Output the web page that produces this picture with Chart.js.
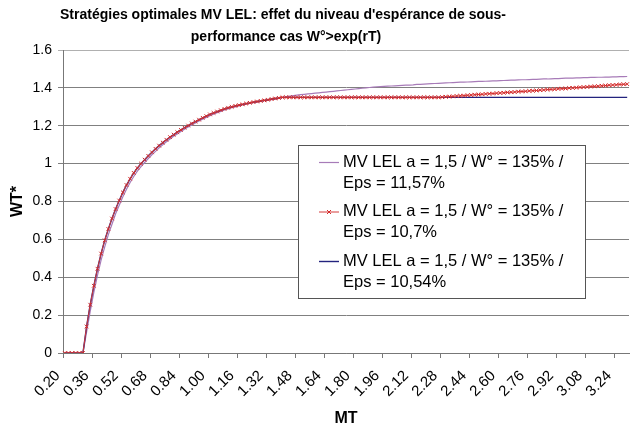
<!DOCTYPE html>
<html>
<head>
<meta charset="utf-8">
<script src="https://cdn.jsdelivr.net/npm/chart.js@4"></script>
<style>
  html, body { margin: 0; padding: 0; background: #fff; }
  #wrap { width: 634px; height: 428px; }
</style>
</head>
<body>
<div id="wrap"><canvas id="chart" width="634" height="428"></canvas></div>
<script>
// Titre et libellés
const titleLines = ["Stratégies optimales MV LEL: effet du niveau d'espérance de sous-", "performance cas W°>exp(rT)"];
const xTitle = 'MT';
const yTitle = 'WT*';

// Catégories (MT)
const categories = [
  '0.20','0.22','0.24','0.26','0.28','0.30','0.32','0.34','0.36','0.38',
  '0.40','0.42','0.44','0.46','0.48','0.50','0.52','0.54','0.56','0.58',
  '0.60','0.62','0.64','0.66','0.68','0.70','0.72','0.74','0.76','0.78',
  '0.80','0.82','0.84','0.86','0.88','0.90','0.92','0.94','0.96','0.98',
  '1.00','1.02','1.04','1.06','1.08','1.10','1.12','1.14','1.16','1.18',
  '1.20','1.22','1.24','1.26','1.28','1.30','1.32','1.34','1.36','1.38',
  '1.40','1.42','1.44','1.46','1.48','1.50','1.52','1.54','1.56','1.58',
  '1.60','1.62','1.64','1.66','1.68','1.70','1.72','1.74','1.76','1.78',
  '1.80','1.82','1.84','1.86','1.88','1.90','1.92','1.94','1.96','1.98',
  '2.00','2.02','2.04','2.06','2.08','2.10','2.12','2.14','2.16','2.18',
  '2.20','2.22','2.24','2.26','2.28','2.30','2.32','2.34','2.36','2.38',
  '2.40','2.42','2.44','2.46','2.48','2.50','2.52','2.54','2.56','2.58',
  '2.60','2.62','2.64','2.66','2.68','2.70','2.72','2.74','2.76','2.78',
  '2.80','2.82','2.84','2.86','2.88','2.90','2.92','2.94','2.96','2.98',
  '3.00','3.02','3.04','3.06','3.08','3.10','3.12','3.14','3.16','3.18',
  '3.20','3.22','3.24','3.26','3.28','3.30'
];

// Libellés affichés sur l'axe des x
const tickLabels = ['0.20','0.36','0.52','0.68','0.84','1.00','1.16','1.32','1.48','1.64',
  '1.80','1.96','2.12','2.28','2.44','2.60','2.76','2.92','3.08','3.24'];

// Eps = 11,57%
const eps1157 = [
  0, 0, 0, 0, 0, 0, 0.11, 0.22, 0.32, 0.41,
  0.49, 0.56, 0.625, 0.68, 0.735, 0.78, 0.825, 0.865, 0.9, 0.932,
  0.96, 0.984, 1.006, 1.027, 1.047, 1.065, 1.083, 1.1, 1.115, 1.13,
  1.144, 1.157, 1.17, 1.182, 1.193, 1.204, 1.215, 1.225, 1.235, 1.244,
  1.253, 1.261, 1.269, 1.276, 1.283, 1.289, 1.295, 1.3, 1.305, 1.31,
  1.314, 1.318, 1.322, 1.325, 1.328, 1.332, 1.335, 1.338, 1.341, 1.344,
  1.349, 1.353, 1.356, 1.359, 1.362, 1.364, 1.366, 1.368, 1.37, 1.372,
  1.374, 1.376, 1.378, 1.38, 1.382, 1.384, 1.386, 1.388, 1.39, 1.392,
  1.394, 1.396, 1.398, 1.4, 1.402, 1.404, 1.406, 1.407, 1.408, 1.409,
  1.41, 1.411, 1.412, 1.413, 1.414, 1.415, 1.416, 1.418, 1.419, 1.42,
  1.421, 1.422, 1.423, 1.424, 1.425, 1.426, 1.427, 1.428, 1.429, 1.43,
  1.43, 1.431, 1.432, 1.433, 1.434, 1.434, 1.435, 1.436, 1.437, 1.437,
  1.438, 1.439, 1.44, 1.441, 1.441, 1.442, 1.443, 1.443, 1.444, 1.445,
  1.445, 1.446, 1.447, 1.447, 1.448, 1.449, 1.449, 1.45, 1.451, 1.451,
  1.452, 1.453, 1.453, 1.454, 1.454, 1.455, 1.455, 1.456, 1.456, 1.457,
  1.457, 1.458, 1.458, 1.459, 1.459, 1.46
];

// Eps = 10,7%
const eps107 = [
  0, 0, 0, 0, 0, 0, 0.14, 0.255, 0.355, 0.445,
  0.525, 0.595, 0.655, 0.71, 0.76, 0.805, 0.848, 0.887, 0.92, 0.951,
  0.977, 1.0, 1.021, 1.041, 1.06, 1.078, 1.095, 1.111, 1.126, 1.14,
  1.153, 1.166, 1.178, 1.19, 1.201, 1.212, 1.222, 1.232, 1.242, 1.251,
  1.26, 1.268, 1.275, 1.282, 1.289, 1.295, 1.3, 1.305, 1.309, 1.313,
  1.317, 1.321, 1.325, 1.328, 1.331, 1.334, 1.337, 1.341, 1.344, 1.347,
  1.35, 1.35, 1.35, 1.35, 1.35, 1.35, 1.35, 1.35, 1.35, 1.35,
  1.35, 1.35, 1.35, 1.35, 1.35, 1.35, 1.35, 1.35, 1.35, 1.35,
  1.35, 1.35, 1.35, 1.35, 1.35, 1.35, 1.35, 1.35, 1.35, 1.35,
  1.35, 1.35, 1.35, 1.35, 1.35, 1.35, 1.35, 1.35, 1.35, 1.35,
  1.35, 1.35, 1.35, 1.35, 1.351, 1.353, 1.354, 1.355, 1.357, 1.358,
  1.359, 1.361, 1.362, 1.364, 1.365, 1.366, 1.368, 1.369, 1.37, 1.372,
  1.373, 1.374, 1.376, 1.377, 1.378, 1.38, 1.381, 1.382, 1.384, 1.385,
  1.386, 1.388, 1.389, 1.391, 1.392, 1.393, 1.395, 1.396, 1.397, 1.399,
  1.4, 1.401, 1.403, 1.404, 1.405, 1.407, 1.408, 1.409, 1.411, 1.412,
  1.414, 1.415, 1.416, 1.418, 1.419, 1.42
];

// Eps = 10,54%
const eps1054 = [
  0, 0, 0, 0, 0, 0, 0.14, 0.255, 0.355, 0.445,
  0.525, 0.595, 0.655, 0.71, 0.76, 0.805, 0.848, 0.887, 0.92, 0.951,
  0.977, 1.0, 1.021, 1.041, 1.06, 1.078, 1.095, 1.111, 1.126, 1.14,
  1.153, 1.166, 1.178, 1.19, 1.201, 1.212, 1.222, 1.232, 1.242, 1.251,
  1.26, 1.268, 1.275, 1.282, 1.289, 1.295, 1.3, 1.305, 1.309, 1.313,
  1.317, 1.321, 1.325, 1.328, 1.331, 1.334, 1.337, 1.341, 1.344, 1.347,
  1.35, 1.35, 1.35, 1.35, 1.35, 1.35, 1.35, 1.35, 1.35, 1.35,
  1.35, 1.35, 1.35, 1.35, 1.35, 1.35, 1.35, 1.35, 1.35, 1.35,
  1.35, 1.35, 1.35, 1.35, 1.35, 1.35, 1.35, 1.35, 1.35, 1.35,
  1.35, 1.35, 1.35, 1.35, 1.35, 1.35, 1.35, 1.35, 1.35, 1.35,
  1.35, 1.35, 1.35, 1.35, 1.35, 1.35, 1.35, 1.35, 1.35, 1.35,
  1.35, 1.35, 1.35, 1.35, 1.35, 1.35, 1.35, 1.35, 1.35, 1.35,
  1.35, 1.35, 1.35, 1.35, 1.35, 1.35, 1.35, 1.35, 1.35, 1.35,
  1.35, 1.35, 1.35, 1.35, 1.35, 1.35, 1.35, 1.35, 1.35, 1.35,
  1.35, 1.35, 1.35, 1.35, 1.35, 1.35, 1.35, 1.35, 1.35, 1.35,
  1.35, 1.35, 1.35, 1.35, 1.35, 1.35
];

const seriesLabels = [
  'MV LEL a = 1,5 / W° = 135% / Eps = 11,57%',
  'MV LEL a = 1,5 / W° = 135% / Eps = 10,7%',
  'MV LEL a = 1,5 / W° = 135% / Eps = 10,54%'
];

const FONT = "'Liberation Sans', Arial, sans-serif";

// Titre dessiné à la main (centré comme dans Excel)
const titlePlugin = {
  id: 'titleAt',
  afterDraw(chart) {
    const c = chart.ctx;
    c.save();
    c.fillStyle = '#000';
    c.font = 'bold 14px ' + FONT;
    c.textAlign = 'center';
    c.textBaseline = 'middle';
    c.fillText(titleLines[0], 283, 15);
    c.fillText(titleLines[1], 286, 37);
    c.restore();
  }
};

// Légende encadrée à l'intérieur du graphique
const legendPlugin = {
  id: 'legendBox',
  afterDraw(chart) {
    const c = chart.ctx;
    c.save();
    c.fillStyle = '#fff';
    c.fillRect(298, 145, 287, 153);
    c.strokeStyle = '#555';
    c.lineWidth = 1;
    c.strokeRect(298.5, 145.5, 287, 153);
    c.font = '16.5px ' + FONT;
    c.textBaseline = 'middle';
    c.textAlign = 'left';
    chart.data.datasets.forEach((ds, i) => {
      const y = 162 + i * 49.5;
      c.strokeStyle = ds.borderColor;
      c.lineWidth = ds.borderWidth;
      c.beginPath();
      c.moveTo(319, y + 0.5);
      c.lineTo(339, y + 0.5);
      c.stroke();
      if (ds.pointRadius > 0) {
        c.strokeStyle = ds.pointBorderColor;
        c.lineWidth = 1;
        c.beginPath();
        c.moveTo(327, y - 1.5); c.lineTo(331, y + 2.5);
        c.moveTo(331, y - 1.5); c.lineTo(327, y + 2.5);
        c.stroke();
      }
      const parts = ds.label.split('/ Eps');
      c.fillStyle = '#000';
      c.fillText(parts[0] + '/', 343, y);
      c.fillText('Eps' + parts[1], 343, y + 21);
    });
    c.restore();
  }
};

const ctx = document.getElementById('chart').getContext('2d');
new Chart(ctx, {
  type: 'line',
  data: {
    labels: categories,
    datasets: [
      {
        label: seriesLabels[0],
        data: eps1157,
        borderColor: '#a77bb8',
        borderWidth: 1.2,
        pointRadius: 0,
        order: 2
      },
      {
        label: seriesLabels[1],
        data: eps107,
        borderColor: '#d43a3a',
        borderWidth: 1,
        pointStyle: 'crossRot',
        pointRadius: 2.6,
        pointBorderColor: '#d42a2a',
        pointBorderWidth: 1,
        order: 0
      },
      {
        label: seriesLabels[2],
        data: eps1054,
        borderColor: '#23237e',
        borderWidth: 1.4,
        pointRadius: 0,
        order: 1
      }
    ]
  },
  options: {
    responsive: false,
    animation: false,
    devicePixelRatio: 1,
    layout: { padding: { top: 50, right: 0, bottom: 0, left: 0 } },
    elements: { line: { tension: 0 } },
    plugins: {
      legend: { display: false },
      tooltip: { enabled: false },
      title: { display: false }
    },
    scales: {
      x: {
        type: 'category',
        offset: true,
        grid: {
          offset: true,
          drawOnChartArea: false,
          tickLength: 5,
          color: c => (c.index % 8 === 0 ? '#777' : 'rgba(0,0,0,0)')
        },
        border: { color: '#777', width: 1 },
        ticks: {
          autoSkip: false,
          minRotation: 45,
          maxRotation: 45,
          padding: 9,
          labelOffset: -7,
          color: '#000',
          font: { family: FONT, size: 15 },
          callback: (v, i) => (tickLabels.includes(categories[i]) ? categories[i] : '')
        },
        title: {
          display: true,
          text: xTitle,
          color: '#000',
          font: { family: FONT, size: 16, weight: 'bold' },
          padding: { top: 0, bottom: 0 }
        },
        afterFit: s => { s.height = 75; s.paddingLeft = 0; s.paddingRight = 0; }
      },
      y: {
        min: 0,
        max: 1.6,
        ticks: {
          stepSize: 0.2,
          padding: 6,
          color: '#000',
          font: { family: FONT, size: 14 },
          callback: v => String(parseFloat(v.toFixed(1)))
        },
        grid: {
          color: c => (c.tick && c.tick.value === 1.6 ? '#b0b0b0' : '#808080'),
          tickLength: 5
        },
        border: { color: '#777', width: 1 },
        title: {
          display: true,
          text: yTitle,
          color: '#000',
          font: { family: FONT, size: 16, weight: 'bold' },
          padding: { top: 8, bottom: 0 }
        },
        afterFit: s => { s.width = 63; }
      }
    }
  },
  plugins: [titlePlugin, legendPlugin]
});
</script>
</body>
</html>
